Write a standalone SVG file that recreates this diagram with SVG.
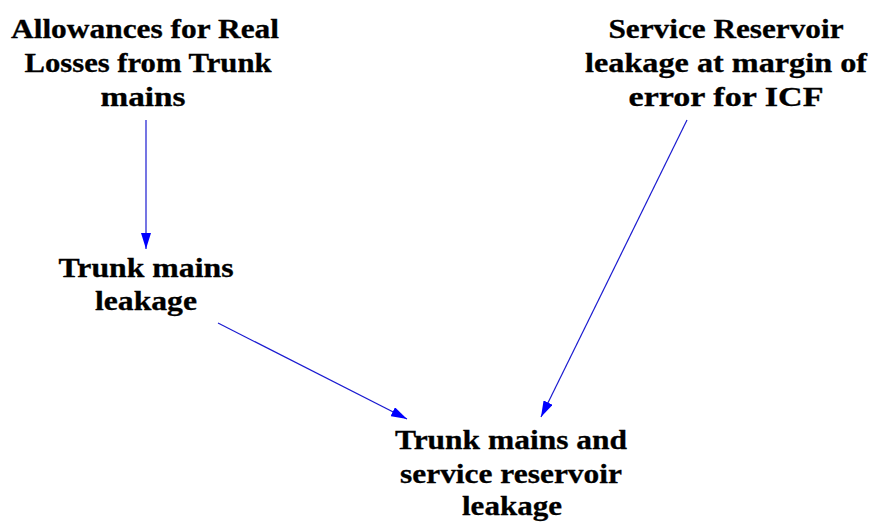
<svg xmlns="http://www.w3.org/2000/svg" width="870" height="524" viewBox="0 0 870 524">
  <style>
    .lbl { font-family: "Liberation Serif", "Times New Roman", serif; font-weight: bold; font-size: 27px; fill: #000; stroke: #000; stroke-width: 0.3; text-anchor: middle; }
    .edge { stroke: #1a1ad0; stroke-width: 1.2; fill: none; marker-end: url(#head); }
  </style>
  <defs>
    <marker id="head" viewBox="0 0 16 10" refX="16" refY="5" markerWidth="16" markerHeight="10" markerUnits="userSpaceOnUse" orient="auto">
      <path d="M0,0 L16,5 L0,10 Z" fill="#0000ff"/>
    </marker>
  </defs>
  <rect width="870" height="524" fill="#fff"/>
  <g id="connectors">
    <line class="edge" x1="146" y1="120" x2="146" y2="249"/>
    <line class="edge" x1="218" y1="323" x2="407" y2="419"/>
    <line class="edge" x1="687" y1="120" x2="541" y2="417"/>
  </g>
  <g id="allowances">
    <text class="lbl" x="145" y="38" textLength="268" lengthAdjust="spacingAndGlyphs">Allowances for Real</text>
    <text class="lbl" x="148" y="72" textLength="247" lengthAdjust="spacingAndGlyphs">Losses from Trunk</text>
    <text class="lbl" x="143" y="106" textLength="85" lengthAdjust="spacingAndGlyphs">mains</text>
  </g>
  <g id="reservoir">
    <text class="lbl" x="726" y="38" textLength="235" lengthAdjust="spacingAndGlyphs">Service Reservoir</text>
    <text class="lbl" x="726" y="72" textLength="282" lengthAdjust="spacingAndGlyphs">leakage at margin of</text>
    <text class="lbl" x="726" y="106" textLength="195" lengthAdjust="spacingAndGlyphs">error for ICF</text>
  </g>
  <g id="trunk">
    <text class="lbl" x="146" y="277" textLength="175" lengthAdjust="spacingAndGlyphs">Trunk mains</text>
    <text class="lbl" x="146" y="310" textLength="102" lengthAdjust="spacingAndGlyphs">leakage</text>
  </g>
  <g id="combined">
    <text class="lbl" x="511" y="449" textLength="232" lengthAdjust="spacingAndGlyphs">Trunk mains and</text>
    <text class="lbl" x="511" y="483" textLength="222" lengthAdjust="spacingAndGlyphs">service reservoir</text>
    <text class="lbl" x="512" y="515" textLength="100" lengthAdjust="spacingAndGlyphs">leakage</text>
  </g>
</svg>
